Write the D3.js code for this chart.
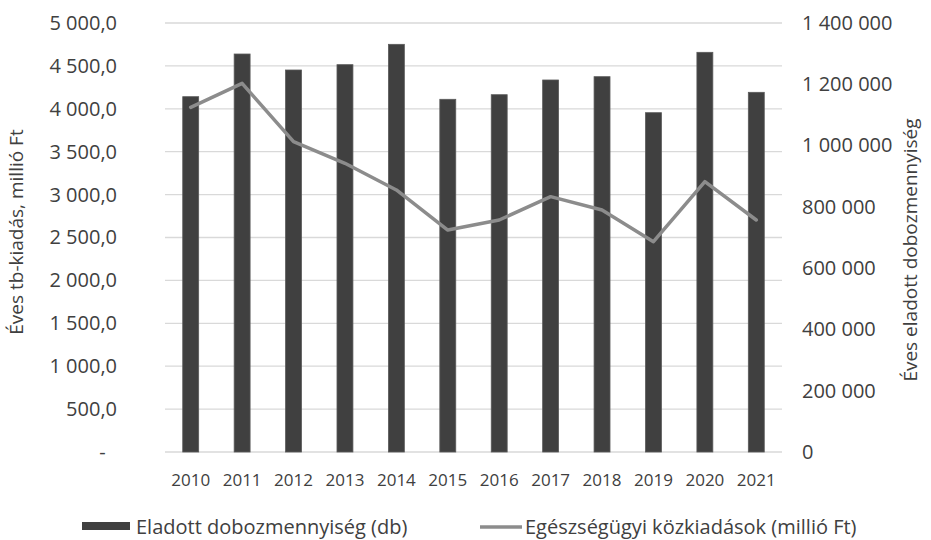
<!DOCTYPE html>
<html><head><meta charset="utf-8">
<script src="https://cdn.jsdelivr.net/npm/d3@7"></script>
<style>
body{margin:0;background:#fff;}
text{font-family:"Open Sans",sans-serif;fill:#404040;}
</style></head>
<body><svg id="c" width="931" height="540"></svg>
<script>
const years = ["2010","2011","2012","2013","2014","2015","2016","2017","2018","2019","2020","2021"];
const boxesSold = [1159500,1298800,1246600,1264000,1330400,1151000,1166000,1214000,1224800,1107300,1304300,1173800];
const healthSpending = [4017,4297,3617,3365,3054,2587,2704,2976,2821,2451,3151,2704];
const leftTicks = [0,500,1000,1500,2000,2500,3000,3500,4000,4500,5000];
const rightTicks = [0,200000,400000,600000,800000,1000000,1200000,1400000];
const barLabel = "Eladott dobozmennyiség (db)";
const lineLabel = "Egészségügyi közkiadások (millió Ft)";
const leftTitle = "Éves tb-kiadás, millió Ft";
const rightTitle = "Éves eladott dobozmennyiség";

const svg = d3.select("#c");
const L = 165, R = 782, T = 23, B = 452;
const x = d3.scaleBand().domain(years).range([L, R]).paddingInner(0.69).paddingOuter(0.345);
const yL = d3.scaleLinear().domain([0,5000]).range([B,T]);
const yR = d3.scaleLinear().domain([0,1400000]).range([B,T]);

const grpFmt = v => d3.format(",")(v).replace(/,/g, "\u00a0");
const fmtL = v => v === 0 ? "-\u2007" : d3.format(",.1f")(v).replace(/,/g, "\u00a0").replace(".", ",");

// gridlines
svg.append("g").selectAll("line").data(leftTicks).join("line")
  .attr("x1", L).attr("x2", R)
  .attr("y1", d => yL(d)).attr("y2", d => yL(d))
  .attr("stroke", "#d9d9d9").attr("stroke-width", 1.3);

// left axis
const gl = svg.append("g").attr("transform", `translate(117,0)`)
  .call(d3.axisLeft(yL).tickValues(leftTicks).tickFormat(fmtL).tickSize(0).tickPadding(0));
gl.select(".domain").remove();
gl.selectAll("text").attr("font-size", 20).attr("fill", "#404040").attr("font-family", "Open Sans");

// right axis
const gr = svg.append("g").attr("transform", `translate(802,0)`)
  .call(d3.axisRight(yR).tickValues(rightTicks).tickFormat(grpFmt).tickSize(0).tickPadding(0));
gr.select(".domain").remove();
gr.selectAll("text").attr("font-size", 20).attr("fill", "#404040").attr("font-family", "Open Sans");

// x axis
const gx = svg.append("g").attr("transform", `translate(0,474)`)
  .call(d3.axisBottom(x).tickSize(0).tickPadding(0));
gx.select(".domain").remove();
gx.selectAll("text").attr("font-size", 17).attr("fill", "#404040").attr("font-family", "Open Sans");

// bars
svg.append("g").selectAll("rect").data(years).join("rect")
  .attr("x", d => x(d)).attr("width", x.bandwidth())
  .attr("y", (d,i) => yR(boxesSold[i])).attr("height", (d,i) => B - yR(boxesSold[i]))
  .attr("fill", "#404040").attr("stroke", "#5a5a5a").attr("stroke-width", 0.8);

// line
const line = d3.line().x((d,i) => x(years[i]) + x.bandwidth()/2).y(d => yL(d));
svg.append("path").datum(healthSpending).attr("d", line)
  .attr("fill", "none").attr("stroke", "#8c8c8c").attr("stroke-width", 3.5)
  .attr("stroke-linejoin", "round").attr("stroke-linecap", "round");

// axis titles
svg.append("text").attr("transform", "translate(16,232) rotate(-90)")
  .attr("text-anchor", "middle").attr("dy", "0.35em").attr("font-size", 19).text(leftTitle);
svg.append("text").attr("transform", "translate(910,250) rotate(-90)")
  .attr("text-anchor", "middle").attr("dy", "0.35em").attr("font-size", 19).text(rightTitle);

// legend
const lg = svg.append("g");
lg.append("rect").attr("x", 82).attr("y", 522).attr("width", 48).attr("height", 8).attr("fill", "#404040");
lg.append("text").attr("x", 136).attr("y", 527).attr("dy", "0.35em").attr("font-size", 20).text(barLabel);
lg.append("line").attr("x1", 480).attr("x2", 522).attr("y1", 527).attr("y2", 527)
  .attr("stroke", "#8c8c8c").attr("stroke-width", 3.5);
lg.append("text").attr("x", 525).attr("y", 527).attr("dy", "0.35em").attr("font-size", 20).text(lineLabel);
</script></body></html>
